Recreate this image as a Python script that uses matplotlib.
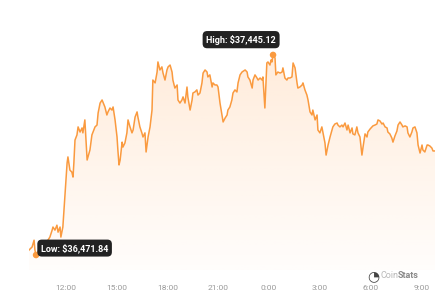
import numpy as np
import pandas as pd
import matplotlib
matplotlib.use("Agg")
import matplotlib.pyplot as plt
import matplotlib.dates as mdates
from matplotlib.colors import LinearSegmentedColormap
from matplotlib.patches import Polygon

# BTC price over 24h (minutes after 09:49)
start = pd.Timestamp("2023-11-20 09:49")
minutes = [
    0, 11, 18, 21, 25, 39, 53, 67, 74, 82, 85, 92, 99, 103, 110, 113, 120, 128, 135, 138,
    145, 152, 156, 159, 163, 170, 174, 181, 188, 191, 198, 206, 209, 216, 223, 227, 234, 241, 245, 252,
    259, 262, 269, 276, 280, 287, 294, 298, 305, 312, 315, 319, 323, 330, 333, 340, 347, 351, 358, 365,
    369, 376, 383, 386, 393, 400, 404, 411, 415, 422, 429, 436, 439, 447, 454, 457, 464, 471, 475, 482,
    489, 493, 500, 507, 510, 517, 525, 528, 535, 542, 546, 553, 560, 563, 571, 578, 581, 588, 595, 599,
    606, 613, 617, 624, 631, 634, 641, 649, 652, 659, 666, 670, 677, 684, 688, 695, 702, 705, 712, 719,
    723, 730, 737, 741, 748, 755, 766, 773, 776, 783, 791, 794, 801, 808, 812, 819, 826, 829, 836, 843,
    847, 854, 858, 861, 865, 872, 875, 882, 890, 897, 900, 907, 914, 918, 925, 932, 936, 943, 950, 953,
    960, 968, 971, 978, 985, 989, 996, 1003, 1006, 1014, 1021, 1024, 1031, 1038, 1042, 1049, 1053, 1060, 1067, 1074,
    1077, 1084, 1092, 1095, 1102, 1109, 1113, 1120, 1127, 1131, 1138, 1145, 1148, 1155, 1162, 1166, 1173, 1180, 1184, 1191,
    1198, 1201, 1209, 1216, 1219, 1226, 1233, 1237, 1244, 1251, 1255, 1262, 1269, 1272, 1279, 1286, 1290, 1297, 1304, 1308,
    1315, 1322, 1325, 1333, 1340, 1343, 1350, 1357, 1361, 1368, 1375, 1379, 1386, 1393, 1396, 1403, 1411, 1414, 1421, 1428,
    1432, 1439,
]
prices = [
    36496, 36511, 36544, 36496, 36471.84, 36506, 36530, 36544, 36559, 36593, 36608, 36593, 36617, 36583, 36608, 36559, 36608, 36773, 36919, 36949,
    36885, 36875, 36851, 36919, 37031, 37056, 37095, 37070, 37090, 37066, 37129, 36934, 36949, 36983, 37056, 37070, 37095, 37104, 37163, 37211,
    37226, 37216, 37192, 37153, 37168, 37187, 37177, 37192, 37129, 37046, 36983, 36910, 36934, 37021, 36997, 37017, 37066, 37129, 37095, 37066,
    37080, 37143, 37168, 37143, 37095, 37066, 37046, 37066, 36973, 37046, 37095, 37177, 37323, 37309, 37362, 37411, 37372, 37387, 37357, 37323,
    37372, 37387, 37396, 37362, 37323, 37284, 37299, 37226, 37211, 37226, 37241, 37211, 37289, 37241, 37177, 37226, 37260, 37265, 37275, 37250,
    37260, 37309, 37357, 37372, 37362, 37338, 37348, 37289, 37309, 37299, 37299, 37289, 37211, 37153, 37119, 37138, 37153, 37177, 37192, 37226,
    37260, 37275, 37265, 37309, 37348, 37362, 37372, 37362, 37338, 37323, 37284, 37323, 37348, 37333, 37323, 37333, 37323, 37338, 37187, 37406,
    37411, 37396, 37421, 37411, 37445.12, 37430, 37348, 37362, 37357, 37362, 37382, 37333, 37323, 37333, 37333, 37338, 37406, 37382, 37309, 37284,
    37289, 37299, 37309, 37275, 37250, 37226, 37168, 37153, 37177, 37129, 37153, 37080, 37066, 37095, 37066, 37017, 36958, 37007, 37046, 37080,
    37095, 37109, 37114, 37104, 37095, 37104, 37095, 37114, 37080, 37104, 37066, 37090, 37061, 37056, 37095, 37066, 37046, 36958, 36997, 37061,
    37046, 37070, 37085, 37095, 37100, 37104, 37109, 37129, 37124, 37109, 37114, 37095, 37090, 37070, 37061, 37041, 37021, 37051, 37075, 37104,
    37119, 37104, 37095, 37100, 37095, 37066, 37046, 37070, 37090, 37095, 37066, 37007, 36968, 37007, 36983, 36973, 37007, 37007, 37002, 36992,
    36978, 36978,
]
high_label = "High: $37,445.12"
low_label = "Low: $36,471.84"

times = start + pd.to_timedelta(minutes, unit="m")
x = mdates.date2num(times.to_pydatetime())
y = np.array(prices)

line_color = "#fa9a3f"
ymin, ymax = 36399, 37615

fig = plt.figure(figsize=(4.4, 3.0), dpi=100)
ax = fig.add_axes([29 / 440, 30 / 300, 406 / 440, 250 / 300])
ax.set_xlim(x[0], x[-1])
ax.set_ylim(ymin, ymax)

# gradient fill under the line
cmap = LinearSegmentedColormap.from_list("fade", [(1, 0.6, 0.25, 0.02), (1, 0.6, 0.25, 0.19)])
grad = np.linspace(0, 1, 256).reshape(-1, 1)
im = ax.imshow(grad, cmap=cmap, aspect="auto", origin="lower",
               extent=[x[0], x[-1], ymin, y.max()], zorder=1)
poly = Polygon(np.column_stack([np.r_[x[0], x, x[-1]], np.r_[ymin, y, ymin]]),
               closed=True, facecolor="none", edgecolor="none")
ax.add_patch(poly)
im.set_clip_path(poly)

ax.plot(x, y, color=line_color, lw=1.1, zorder=3)

# high / low markers
hi = int(np.argmax(y))
lo = int(np.argmin(y))
ax.scatter([x[hi], x[lo]], [y[hi], y[lo]], s=22, color=line_color, zorder=4, edgecolor="none")
box = dict(boxstyle="round,pad=0.4,rounding_size=0.5", fc="#222222", ec="none")
ax.annotate(high_label, (x[hi], y[hi]), xytext=(-23, 11), textcoords="offset points",
            ha="center", va="center", fontsize=6.5, fontweight="bold", color="white",
            family="Roboto", bbox=box, zorder=5)
ax.annotate(low_label, (x[lo], y[lo]), xytext=(3.5, 5), textcoords="offset points",
            ha="left", va="center", fontsize=6.5, fontweight="bold", color="white",
            family="Roboto", bbox=box, zorder=5)

# axes styling
for s in ax.spines.values():
    s.set_visible(False)
ax.set_yticks([])
ax.xaxis.set_major_locator(mdates.HourLocator(byhour=range(0, 24, 3)))
ax.xaxis.set_major_formatter(plt.FuncFormatter(
    lambda v, p: "{}:{:02d}".format(mdates.num2date(v).hour, mdates.num2date(v).minute)))
ax.tick_params(axis="x", length=0, pad=11, labelsize=6, labelcolor="#9a9a9a")
for t in ax.get_xticklabels():
    t.set_family("Roboto")

# watermark
fig.text(373 / 440, 1 - 276 / 300, "\u25d4", fontsize=10, color="#444444", ha="center", va="center")
coin = fig.text(380 / 440, 1 - 276 / 300, "Coin", fontsize=6.5, color="#b8b8b8",
                ha="left", va="center", family="Roboto")
ax.annotate("Stats", xy=(1, 0.5), xycoords=coin, ha="left", va="center", fontsize=6.5,
            color="#8a8a8a", family="Roboto", fontweight="bold", annotation_clip=False)

fig.savefig("out.png", dpi=100, facecolor="white")
